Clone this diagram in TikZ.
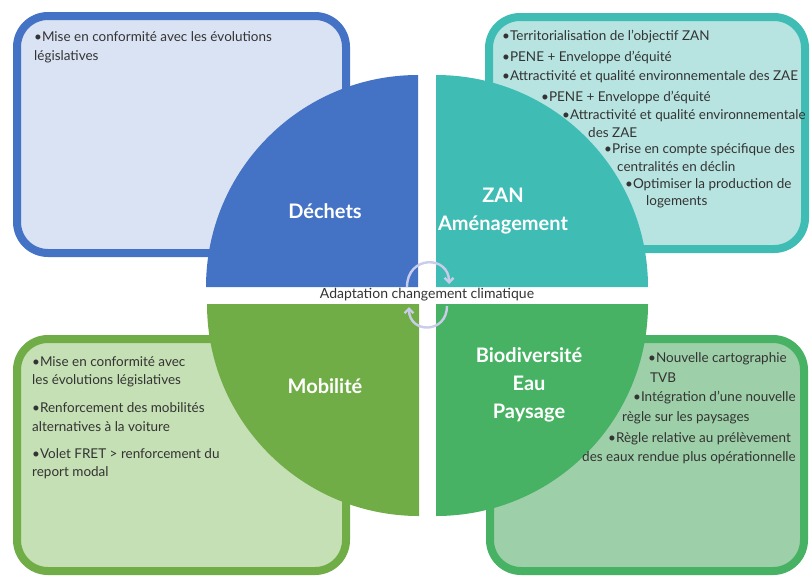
\documentclass[tikz,border=0pt]{standalone}
\usepackage{fontspec}
\setmainfont{Lato}
\usetikzlibrary{arrows.meta}
\definecolor{cblue}{HTML}{4472C4}
\definecolor{cbluel}{HTML}{DAE3F3}
\definecolor{cteal}{HTML}{3FBDB5}
\definecolor{ctealb}{HTML}{B7E4E1}
\definecolor{cgreenA}{HTML}{70AD47}
\definecolor{cgreenAl}{HTML}{C5E0B4}
\definecolor{cgreenB}{HTML}{47B263}
\definecolor{cgreenBl}{HTML}{9DCFA8}
\definecolor{carrow}{HTML}{C9CCEA}
\definecolor{ctext}{HTML}{333333}
\tikzset{
  box/.style={line width=8pt, rounded corners=31pt},
  title/.style={text=white, font=\fontsize{20}{28}\selectfont\bfseries, align=center, inner sep=0pt},
  body/.style={text=ctext, font=\fontsize{13.5}{15}\selectfont, inner sep=0pt, anchor=west},
  cyc/.style={draw=carrow, line width=2.4pt, -{Straight Barb[length=4.5pt,width=9pt]}},
}
\begin{document}
\begin{tikzpicture}[x=1pt,y=-1pt]
\useasboundingbox (0,0) rectangle (810,576);
% boxes
\draw[box, draw=cblue, fill=cbluel] (17,16) rectangle (346,253);
\draw[box, draw=cteal, fill=ctealb] (489,17) rectangle (805,249);
\draw[box, draw=cgreenA, fill=cgreenAl] (17,339) rectangle (346,571);
\draw[box, draw=cgreenB, fill=cgreenBl] (490,339) rectangle (804,571);
% quadrants
\fill[cblue] (418,287) -- (206,287) arc[start angle=180, end angle=270, radius=212] -- cycle;
\fill[cteal] (436,287) -- (436,75) arc[start angle=270, end angle=360, radius=212] -- cycle;
\fill[cgreenA] (419,304) -- (207,304) arc[start angle=180, end angle=90, radius=212] -- cycle;
\fill[cgreenB] (436,304) -- (648,304) arc[start angle=0, end angle=90, radius=212] -- cycle;
% titles
\node[title] (dechets) at (325,211) {Déchets};
\node[title] (zan) at (503,211) {ZAN\\Aménagement};
\node[title] (mobilite) at (325,386) {Mobilité};
\node[title] (biodiv) at (529,385) {Biodiversité\\Eau\\Paysage};
% centre
\node[text=ctext, font=\fontsize{14}{16}\selectfont, inner sep=0pt] (adapt) at (427,295) {Adaptation changement climatique};
\coordinate (a1s) at (407,287);
\coordinate (a1e) at (449,284);
\coordinate (a2s) at (447,306);
\coordinate (a2e) at (409,307);
\draw[cyc] (a1s) .. controls (407,255) and (449,255) .. (a1e);
\draw[cyc] (a2s) .. controls (447,334) and (409,334) .. (a2e);
% top-left text
\node[body] (tl1) at (34,37) {•Mise en conformité avec les évolutions};
\node[body] (tl2) at (34,57) {législatives};
% top-right text
\node[body] (tr1) at (502,37) {•Territorialisation de l'objectif ZAN};
\node[body] (tr2) at (502,57) {•PENE + Enveloppe d'équité};
\node[body] (tr3) at (502,77) {•Attractivité et qualité environnementale des ZAE};
\node[body] (tr4) at (541,97) {•PENE + Enveloppe d'équité};
\node[body] (tr5) at (562,116) {•Attractivité et qualité environnementale};
\node[body] (tr6) at (588,133) {des ZAE};
\node[body] (tr7) at (604,150) {•Prise en compte spécifique des};
\node[body] (tr8) at (617,167) {centralités en déclin};
\node[body] (tr9) at (625,185) {•Optimiser la production de};
\node[body] (tr10) at (646,202) {logements};
% bottom-left text
\node[body] (bl1) at (32,362) {•Mise en conformité avec};
\node[body] (bl2) at (32,381) {les évolutions législatives};
\node[body] (bl3) at (32,408) {•Renforcement des mobilités};
\node[body] (bl4) at (32,427) {alternatives à la voiture};
\node[body] (bl5) at (32,454) {•Volet FRET > renforcement du};
\node[body] (bl6) at (32,473) {report modal};
% bottom-right text
\node[body] (br1) at (648,359) {•Nouvelle cartographie};
\node[body] (br2) at (650,378) {TVB};
\node[body] (br3) at (633,398) {•Intégration d'une nouvelle};
\node[body] (br4) at (622,418) {règle sur les paysages};
\node[body] (br5) at (608,439) {•Règle relative au prélèvement};
\node[body] (br6) at (582,458) {des eaux rendue plus opérationnelle};
\end{tikzpicture}
\end{document}
